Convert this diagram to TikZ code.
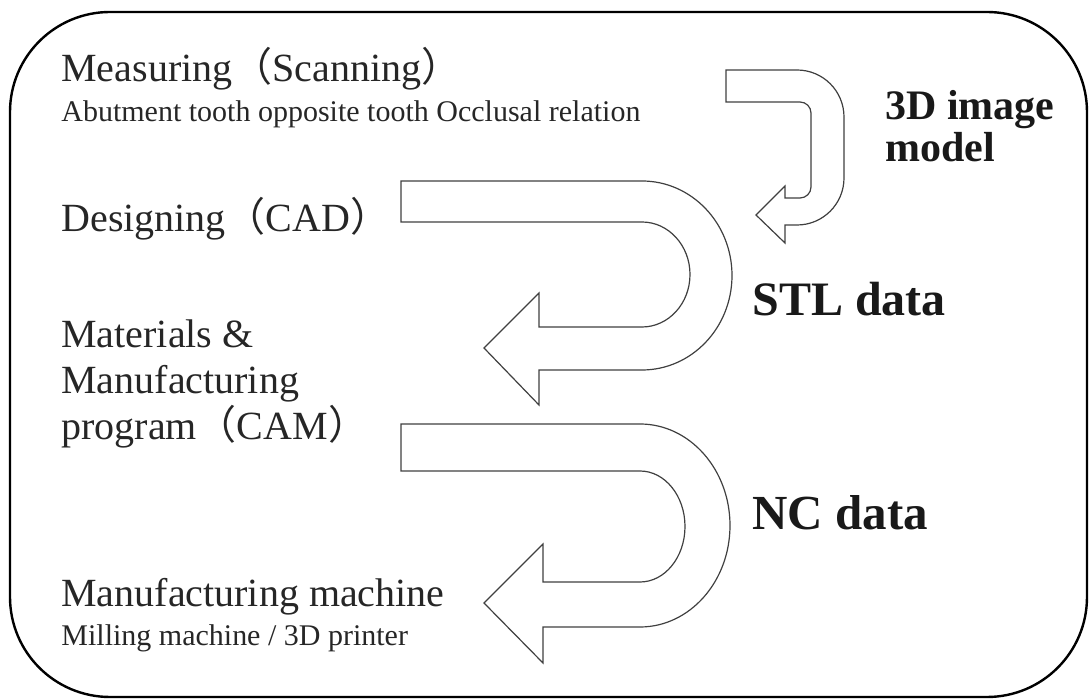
\documentclass[tikz,border=0pt]{standalone}
\usepackage{fontspec}
\setmainfont{Liberation Serif}
\newfontfamily\cjk{Noto Sans CJK SC}
\usetikzlibrary{positioning}
\newcommand{\lpar}{{\cjk （}}
\newcommand{\rpar}{{\cjk ）}}
\tikzstyle{step label} = [
  anchor=base west,
  inner sep=0,
  text=black!85,
  font=\fontsize{20}{23}\selectfont
]
\tikzstyle{sub label} = [
  anchor=base west,
  inner sep=0,
  text=black!85,
  font=\fontsize{15}{18}\selectfont
]
\tikzstyle{data label} = [
  anchor=base west,
  inner sep=0,
  text=black!90,
  align=left,
  font=\bfseries\fontsize{21}{21}\selectfont
]
\tikzstyle{bend arrow} = [
  draw=black!75,
  line width=0.6pt,
  fill=white,
  line join=miter
]

\begin{document}
\begin{tikzpicture}[x=0.5pt, y=-0.5pt]
    \useasboundingbox (0,0) rectangle (1089,699);

    % outer frame
    \draw [line width=1.2pt, rounded corners=50pt] (10,12) rectangle (1087,697);

    % step texts
    \node (measure) [step label] at (61,82) {Measuring\lpar Scanning\rpar};
    \node (measuresub) [sub label] at (61,122) {Abutment tooth opposite tooth Occlusal relation};
    \node (design) [step label] at (61,232) {Designing\lpar CAD\rpar};
    \node (cam) [step label, align=left] at (61,440) {Materials \&\\Manufacturing\\program\lpar CAM\rpar};
    \node (machine) [step label] at (61,607) {Manufacturing machine};
    \node (machinesub) [sub label] at (61,646) {Milling machine / 3D printer};

    % data texts
    \node (model) [data label] at (885,162) {3D image\\model};
    \node (stl) [data label, font=\bfseries\fontsize{24}{24}\selectfont] at (752,316) {STL data};
    \node (nc) [data label, font=\bfseries\fontsize{24.5}{24}\selectfont] at (752,530) {NC data};

    % scan -> design
    \draw [bend arrow] (726,70) -- (797,70) arc[start angle=-90, end angle=0, radius=47]
      -- (844,178) arc[start angle=0, end angle=90, radius=47]
      -- (785,225) -- (785,243) -- (756,215) -- (785,186) -- (785,198) -- (800,198)
      arc[start angle=90, end angle=0, radius=11] -- (811,113)
      arc[start angle=0, end angle=-90, radius=11] -- (726,102) -- cycle;

    % design -> cam
    \draw [bend arrow] (401,181) -- (642,181)
      arc[start angle=-90, end angle=90, x radius=90, y radius=94.5]
      -- (539,370) -- (539,405) -- (484,348) -- (539,293) -- (539,327) -- (642,327)
      arc[start angle=90, end angle=-90, x radius=48, y radius=52.5]
      -- (401,222) -- cycle;

    % cam -> machine
    \draw [bend arrow] (401,424) -- (640,424)
      arc[start angle=-90, end angle=90, x radius=90, y radius=101.5]
      -- (543,627) -- (543,663) -- (484,603) -- (543,544) -- (543,582) -- (640,582)
      arc[start angle=90, end angle=-90, x radius=45, y radius=55.5]
      -- (401,471) -- cycle;

\end{tikzpicture}
\end{document}
